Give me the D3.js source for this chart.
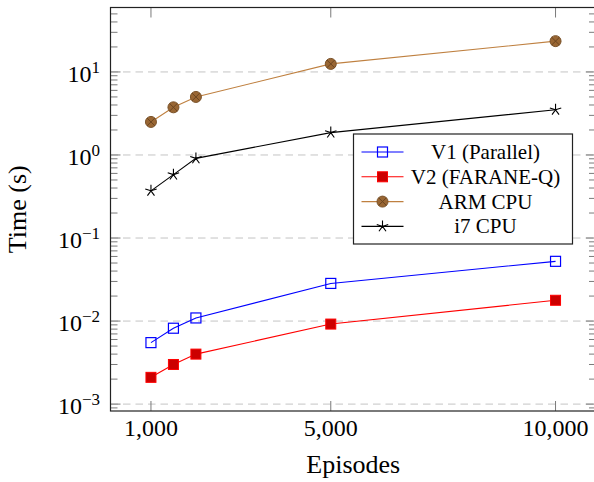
<!DOCTYPE html>
<html>
<head>
<meta charset="utf-8">
<script src="https://cdn.jsdelivr.net/npm/d3@7"></script>
<style>
    html, body { margin: 0; padding: 0; background: #fff; }
</style>
</head>
<body>
<div id="chart"></div>
<script>
// Chart data
const episodes = [1000, 1500, 2000, 5000, 10000];
const v1Parallel = [0.0055, 0.0082, 0.0109, 0.0284, 0.0524];
const v2FaraneQ = [0.0021, 0.0030, 0.0040, 0.0092, 0.0178];
const armCpu = [2.5, 3.75, 5.0, 12.5, 23.5];
const i7Cpu = [0.37, 0.58, 0.91, 1.86, 3.5];

const seriesNames = ["V1 (Parallel)", "V2 (FARANE-Q)", "ARM CPU", "i7 CPU"];
const xTicks = [1000, 5000, 10000];
const yTickExps = [-3, -2, -1, 0, 1];

const series = [
    { name: seriesNames[0], values: v1Parallel, color: "#0000ff", mark: "square" },
    { name: seriesNames[1], values: v2FaraneQ, color: "#ff0000", mark: "squareFilled" },
    { name: seriesNames[2], values: armCpu, color: "#bf8040", mark: "otimes" },
    { name: seriesNames[3], values: i7Cpu, color: "#000000", mark: "star" }
];

const width = 594, height = 482;
const plotLeft = 110.5, plotRight = 596, plotTop = 7.5, plotBottom = 411;
const serif = "'Liberation Serif', 'DejaVu Serif', serif";

const svg = d3.select("#chart")
    .append("svg")
    .attr("width", width)
    .attr("height", height)
    .attr("font-family", serif)
    .style("font-family", serif);

// Scales (limits enlarged by 10% like pgfplots)
const x = d3.scaleLinear()
    .domain([100, 10900])
    .range([plotLeft, plotRight]);

const y = d3.scaleLog()
    .domain([Math.pow(10, -3.083), Math.pow(10, 1.776)])
    .range([plotBottom, plotTop]);

// Grid lines at decades
svg.append("g")
    .selectAll("line")
    .data(yTickExps)
    .enter()
    .append("line")
    .attr("x1", plotLeft)
    .attr("x2", plotRight)
    .attr("y1", d => y(Math.pow(10, d)))
    .attr("y2", d => y(Math.pow(10, d)))
    .style("stroke", "#c4c4c4")
    .style("stroke-width", 1)
    .style("stroke-dasharray", "7.5,5");

// Minor ticks for the log axis
const minor = [];
for (let e = -4; e <= 1; e++) {
    for (let m = 2; m <= 9; m++) {
        const v = m * Math.pow(10, e);
        if (y(v) <= plotBottom && y(v) >= plotTop) minor.push(v);
    }
}

const ticks = svg.append("g")
    .style("stroke", "#7a7a7a")
    .style("stroke-width", 1);

[plotLeft, plotRight].forEach(edge => {
    const dir = edge === plotLeft ? 1 : -1;
    ticks.selectAll(null)
        .data(minor)
        .enter()
        .append("line")
        .attr("x1", edge)
        .attr("x2", edge + dir * 7)
        .attr("y1", d => y(d))
        .attr("y2", d => y(d));
    ticks.selectAll(null)
        .data(yTickExps)
        .enter()
        .append("line")
        .attr("x1", edge)
        .attr("x2", edge + dir * 10)
        .attr("y1", d => y(Math.pow(10, d)))
        .attr("y2", d => y(Math.pow(10, d)));
});

[plotBottom, plotTop].forEach(edge => {
    const dir = edge === plotBottom ? -1 : 1;
    ticks.selectAll(null)
        .data(xTicks)
        .enter()
        .append("line")
        .attr("x1", d => x(d))
        .attr("x2", d => x(d))
        .attr("y1", edge)
        .attr("y2", edge + dir * 10);
});

// Axis box
svg.append("rect")
    .attr("x", plotLeft)
    .attr("y", plotTop)
    .attr("width", plotRight - plotLeft)
    .attr("height", plotBottom - plotTop)
    .style("fill", "none")
    .style("stroke", "#222")
    .style("stroke-width", 1.2);

// Tick labels
svg.append("g")
    .selectAll("text")
    .data(xTicks)
    .enter()
    .append("text")
    .attr("x", d => x(d))
    .attr("y", 436)
    .attr("text-anchor", "middle")
    .style("font-family", serif)
    .style("font-size", "24px")
    .text(d => d3.format(",")(d));

const yLabels = svg.append("g")
    .selectAll("text")
    .data(yTickExps)
    .enter()
    .append("text")
    .attr("x", 100)
    .attr("y", d => y(Math.pow(10, d)) + 10)
    .attr("text-anchor", "end")
    .style("font-family", serif)
    .style("font-size", "24px");

yLabels.append("tspan").text("10");
yLabels.append("tspan")
    .attr("dy", -9)
    .style("font-size", "17px")
    .text(d => d < 0 ? "\u2212" + (-d) : String(d));

// Axis titles
svg.append("text")
    .attr("x", (plotLeft + plotRight) / 2)
    .attr("y", 473)
    .attr("text-anchor", "middle")
    .style("font-family", serif)
    .style("font-size", "26px")
    .text("Episodes");

svg.append("text")
    .attr("transform", `translate(26,${(plotTop + plotBottom) / 2}) rotate(-90)`)
    .attr("text-anchor", "middle")
    .style("font-family", serif)
    .style("font-size", "26px")
    .text("Time (s)");

// Marker drawing
function drawMark(g, type, color) {
    if (type === "square") {
        g.append("rect")
            .attr("x", -5).attr("y", -5).attr("width", 10).attr("height", 10)
            .style("fill", "none").style("stroke", color).style("stroke-width", 1.2);
    } else if (type === "squareFilled") {
        g.append("rect")
            .attr("x", -5).attr("y", -5).attr("width", 10).attr("height", 10)
            .style("fill", "#cc0000").style("stroke", color).style("stroke-width", 1);
    } else if (type === "otimes") {
        g.append("circle")
            .attr("r", 5.5)
            .style("fill", "#996633").style("stroke", "#7a5229").style("stroke-width", 1);
        const k = 5.5 * Math.SQRT1_2;
        g.append("path")
            .attr("d", `M${-k},${-k}L${k},${k}M${-k},${k}L${k},${-k}`)
            .style("stroke", "#6b4520").style("stroke-width", 1);
    } else if (type === "star") {
        let d = "";
        for (let i = 0; i < 5; i++) {
            const a = -Math.PI / 2 + i * 2 * Math.PI / 5;
            d += `M0,0L${6 * Math.cos(a)},${6 * Math.sin(a)}`;
        }
        g.append("path")
            .attr("d", d)
            .style("stroke", color).style("stroke-width", 1.1).style("fill", "none");
    }
}

// Series lines and markers
const line = d3.line()
    .x((d, i) => x(episodes[i]))
    .y(d => y(d));

series.forEach(s => {
    svg.append("path")
        .datum(s.values)
        .attr("d", line)
        .style("fill", "none")
        .style("stroke", s.color)
        .style("stroke-width", 1.1);

    svg.append("g")
        .selectAll("g")
        .data(s.values)
        .enter()
        .append("g")
        .attr("transform", (d, i) => `translate(${x(episodes[i])},${y(d)})`)
        .each(function () { drawMark(d3.select(this), s.mark, s.color); });
});

// Legend
const legend = svg.append("g")
    .attr("transform", "translate(353.5,134)");

legend.append("rect")
    .attr("width", 219)
    .attr("height", 110)
    .style("fill", "#fff")
    .style("stroke", "#222")
    .style("stroke-width", 1.2);

const rows = legend.selectAll("g.row")
    .data(series)
    .enter()
    .append("g")
    .attr("class", "row")
    .attr("transform", (d, i) => `translate(0,${18 + i * 24.8})`);

rows.append("line")
    .attr("x1", 8)
    .attr("x2", 50)
    .style("stroke", d => d.color)
    .style("stroke-width", 1.1);

rows.append("g")
    .attr("transform", "translate(29,0)")
    .each(function (d) { drawMark(d3.select(this), d.mark, d.color); });

rows.append("text")
    .attr("x", 132)
    .attr("y", 7)
    .attr("text-anchor", "middle")
    .style("font-family", serif)
    .style("font-size", "21px")
    .text(d => d.name);
</script>
</body>
</html>
